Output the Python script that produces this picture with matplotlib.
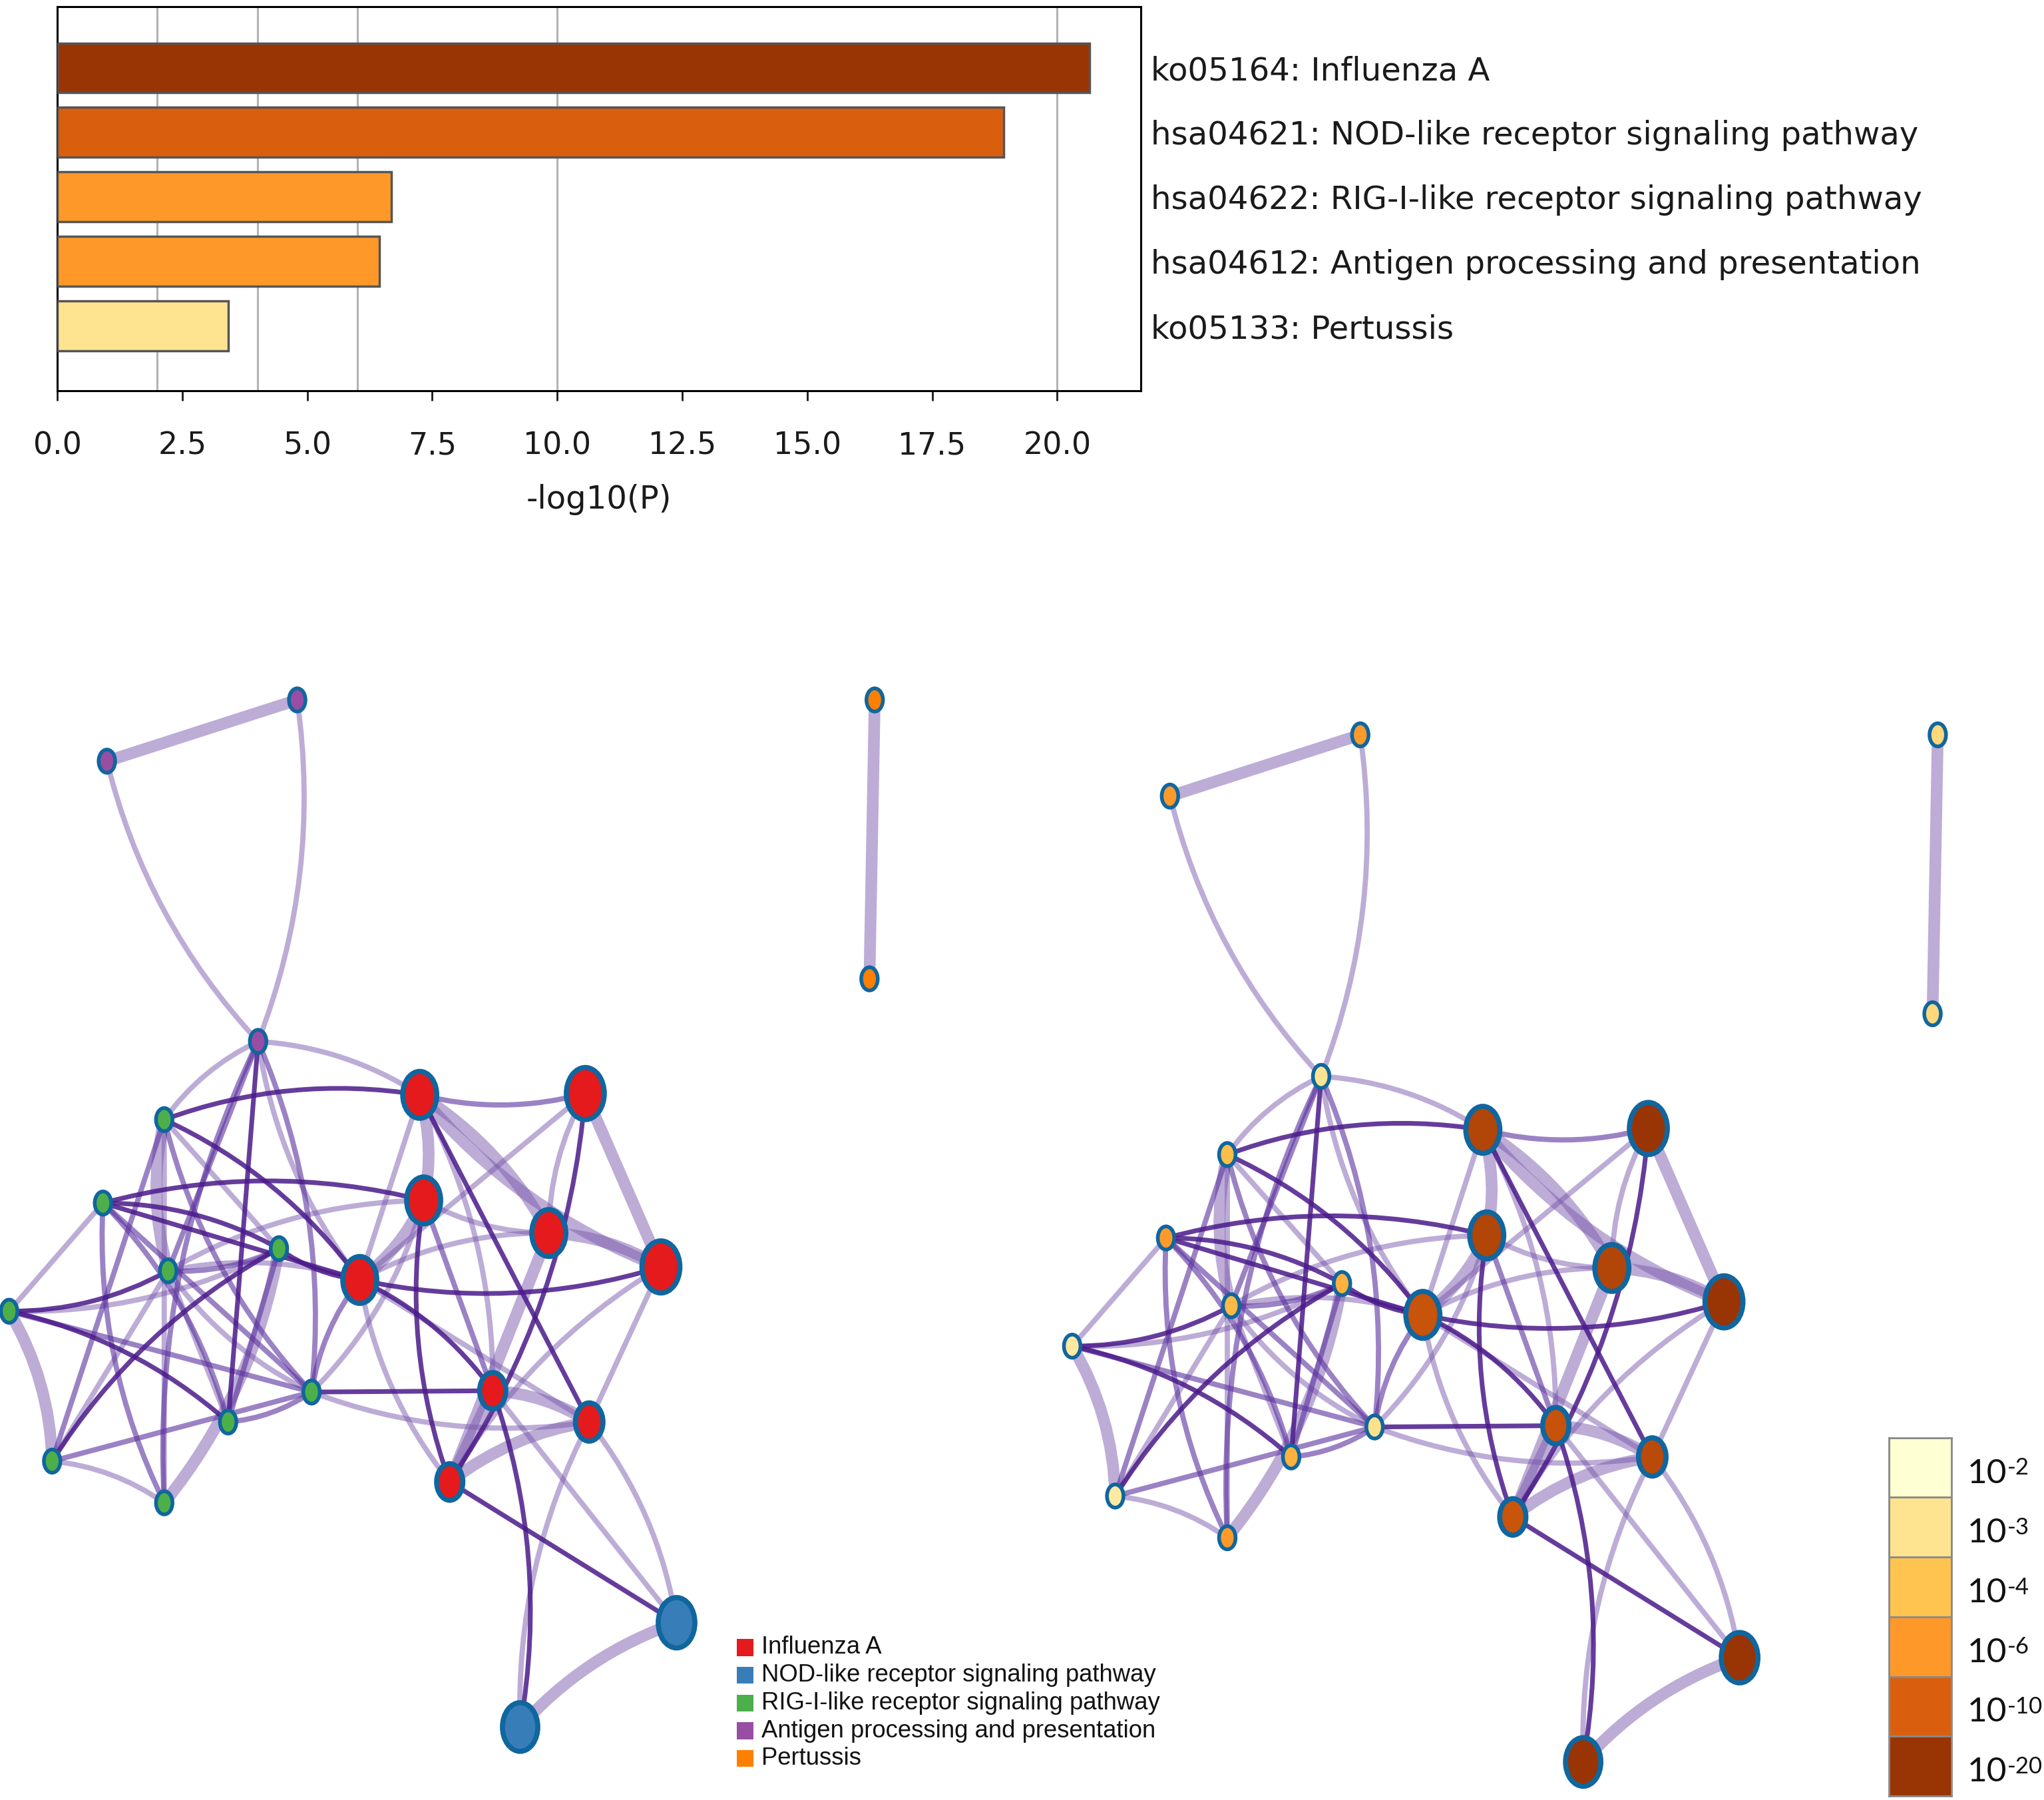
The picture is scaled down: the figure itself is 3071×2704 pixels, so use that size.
import numpy as np
import matplotlib
matplotlib.use('Agg')
import matplotlib.pyplot as plt
from matplotlib.path import Path
from matplotlib.patches import PathPatch, Ellipse, Rectangle
from matplotlib.colors import ListedColormap, BoundaryNorm, LinearSegmentedColormap
from matplotlib.transforms import blended_transform_factory

# Enrichment bar chart
terms = ['ko05164: Influenza A',
         'hsa04621: NOD-like receptor signaling pathway',
         'hsa04622: RIG-I-like receptor signaling pathway',
         'hsa04612: Antigen processing and presentation',
         'ko05133: Pertussis']
neglogp = [20.65, 18.93, 6.68, 6.44, 3.42]
grid_at = [2, 4, 6, 10, 20]

# p-value colour key
p_bins = [2, 3, 4, 6, 10, 20]
p_exps = ['-2', '-3', '-4', '-6', '-10', '-20']
p_colors = ['#ffffd4', '#fee391', '#fec44f', '#fe9929', '#d95f0e', '#993404']

# cluster key
clusters = ['Influenza A', 'NOD-like receptor signaling pathway',
            'RIG-I-like receptor signaling pathway',
            'Antigen processing and presentation', 'Pertussis']
cluster_colors = ['#e41a1c', '#377eb8', '#4daf4a', '#984ea3', '#ff7f00']

# network nodes (layout of the left panel; right panel is the same layout)
node_names = ['P1', 'P2', 'P3', 'O1', 'O2',
              'G1', 'G2', 'G3', 'G4', 'G5', 'G6', 'G7', 'G8', 'G9',
              'R1', 'R2', 'R3', 'R4', 'R5', 'R6', 'R7', 'R8', 'R9',
              'B1', 'B2']
node_x = [228, 82, 198, 671, 667,
          126, 79, 129, 214, 7, 239, 175, 40, 126,
          322, 449, 325, 421, 507, 276, 378, 452, 345,
          519, 399]
node_y = [537, 584, 799, 537, 751,
          859, 923, 975, 958, 1006, 1068, 1091, 1121, 1153,
          840, 839, 921, 946, 972, 982, 1067, 1091, 1137,
          1245, 1325]
node_cluster = [3, 3, 3, 4, 4,
                2, 2, 2, 2, 2, 2, 2, 2, 2,
                0, 0, 0, 0, 0, 0, 0, 0, 0,
                1, 1]
node_size = [15.5, 15.5, 15.5, 15.5, 15.5,
             15.5, 15.5, 15.5, 15.5, 15.5, 15.5, 15.5, 15.5, 15.5,
             30, 33, 30, 30, 33, 30, 24, 25, 24,
             32, 31]
node_logp = [6, 6, 3, 3.35, 3.35,
             4.3, 6, 4.5, 4.9, 2.8, 3.1, 4.9, 2.8, 6,
             16, 20, 16, 16, 20, 12.7, 13, 15, 12.5,
             20, 20]

# similarity edges: d = strong, m = medium, l = weak, L = weak but wide
edges = [('P1', 'P2', 'L'), ('P2', 'P3', 'l'), ('P1', 'P3', 'l'), ('O1', 'O2', 'L'),
         ('P3', 'G1', 'l'), ('P3', 'R1', 'l'), ('P3', 'G7', 'd'), ('P3', 'G9', 'm'),
         ('P3', 'G6', 'm'), ('P3', 'G3', 'm'), ('P3', 'R6', 'l'),
         ('G5', 'G8', 'L'), ('G5', 'G2', 'l'), ('G5', 'G3', 'd'), ('G5', 'G7', 'd'),
         ('G5', 'G6', 'm'), ('G5', 'G4', 'l'),
         ('G2', 'G4', 'd'), ('G2', 'R6', 'd'), ('G2', 'G9', 'm'), ('G2', 'G7', 'm'),
         ('G2', 'G6', 'm'),
         ('G1', 'G3', 'L'), ('G1', 'R6', 'd'), ('G1', 'G8', 'm'), ('G1', 'G6', 'm'),
         ('G1', 'R1', 'd'), ('G1', 'G4', 'l'),
         ('G3', 'G4', 'm'), ('G3', 'R6', 'l'), ('G3', 'G8', 'l'), ('G3', 'G6', 'l'),
         ('G3', 'R3', 'l'), ('G3', 'G7', 'l'),
         ('G4', 'R6', 'd'), ('G4', 'G9', 'L'), ('G4', 'G7', 'm'), ('G4', 'G8', 'd'),
         ('G6', 'R6', 'm'), ('G6', 'R7', 'd'), ('G6', 'R8', 'l'), ('G6', 'G7', 'm'),
         ('G6', 'G8', 'm'), ('G6', 'R3', 'l'),
         ('G8', 'G9', 'l'), ('G9', 'G1', 'l'),
         ('R3', 'G2', 'd'),
         ('R1', 'R3', 'L'), ('R1', 'R6', 'l'), ('R1', 'R2', 'm'), ('R1', 'R4', 'L'),
         ('R1', 'R8', 'd'), ('R1', 'R5', 'L'), ('R1', 'R7', 'l'),
         ('R2', 'R5', 'L'), ('R2', 'R4', 'l'), ('R2', 'R9', 'd'), ('R2', 'R6', 'l'),
         ('R3', 'R9', 'd'), ('R3', 'R6', 'L'), ('R3', 'R7', 'm'), ('R3', 'R4', 'l'),
         ('R4', 'R5', 'L'), ('R4', 'R9', 'L'), ('R4', 'R6', 'l'),
         ('R5', 'R6', 'd'), ('R5', 'R8', 'l'), ('R5', 'R9', 'l'),
         ('R6', 'R7', 'd'), ('R6', 'R8', 'l'), ('R6', 'R9', 'l'),
         ('R7', 'R8', 'L'), ('R7', 'R9', 'L'), ('R8', 'R9', 'L'),
         ('R7', 'B2', 'd'), ('R9', 'B1', 'd'), ('R8', 'B2', 'l'), ('R8', 'B1', 'l'),
         ('R7', 'B1', 'l'), ('B1', 'B2', 'L')]

right_shift = (815.5, 26.8)

# ---------------------------------------------------------------------------
W, H = 1568, 1381           # layout units of the whole canvas
PT = 72 / 100 * 3071 / W    # points per layout unit

fig = plt.figure(figsize=(30.71, 27.04), dpi=100)
fig.patch.set_facecolor('white')

# Canvas axes for the two networks and keys
ax = fig.add_axes([0, 0, 1, 1])
ax.set_xlim(0, W)
ax.set_ylim(H, 0)
ax.axis('off')

edge_style = {'l': ('#7b5aae', 0.5, 4.0, 1),
              'L': ('#7b5aae', 0.5, 9.0, 1),
              'm': ('#5e35a0', 0.62, 4.0, 2),
              'd': ('#4a1a8a', 0.85, 3.6, 3)}
idx = {n: i for i, n in enumerate(node_names)}


def draw_network(dx, dy, facecolors):
    for k, (a, b, cls) in enumerate(edges):
        color, alpha, width, z = edge_style[cls]
        x0, y0 = node_x[idx[a]] + dx, node_y[idx[a]] + dy
        x1, y1 = node_x[idx[b]] + dx, node_y[idx[b]] + dy
        bend = 0.13 * (((k + 1) % 3) - 1)
        cx = (x0 + x1) / 2 - bend * (y1 - y0)
        cy = (y0 + y1) / 2 + bend * (x1 - x0)
        path = Path([(x0, y0), (cx, cy), (x1, y1)],
                    [Path.MOVETO, Path.CURVE3, Path.CURVE3])
        ax.add_patch(PathPatch(path, facecolor='none', edgecolor=color,
                               alpha=alpha, lw=width * PT, zorder=z,
                               capstyle='round'))
    for i in range(len(node_names)):
        lw = 4.0 if node_size[i] < 20 else 5.5
        ax.add_patch(Ellipse((node_x[i] + dx, node_y[i] + dy),
                             node_size[i] - lw / PT,
                             node_size[i] * 1.33 - lw / PT,
                             facecolor=facecolors[i], edgecolor='#10669e',
                             lw=lw, zorder=5))


draw_network(0, 0, [cluster_colors[c] for c in node_cluster])

pos = [(b - 2) / 18 for b in p_bins]
p_cmap = LinearSegmentedColormap.from_list('pv', list(zip(pos, p_colors)))
draw_network(right_shift[0], right_shift[1],
             [p_cmap((v - 2) / 18) for v in node_logp])

# cluster key
for k, (name, c) in enumerate(zip(clusters, cluster_colors)):
    y = 1264 + 21.3 * k
    ax.add_patch(Rectangle((565, y - 6.5), 13, 13, facecolor=c,
                           edgecolor='none'))
    ax.text(584, y, name, va='center', ha='left', fontsize=26.3,
            family='Liberation Sans', color='#111111')

# p-value key
ax_cb = fig.add_axes([1449 / W, 1 - 1378 / H, 48 / W, 275 / H])
for k, c in enumerate(p_colors):
    ax_cb.bar(0, 1, bottom=k, width=1, color=c, edgecolor='#8a8a8a', lw=2)
ax_cb.set_xlim(-0.5, 0.5)
ax_cb.set_ylim(len(p_colors), 0)
ax_cb.set_xticks([])
ax_cb.set_yticks([])
trans = blended_transform_factory(ax_cb.transAxes, ax_cb.transData)
for k, e in enumerate(p_exps):
    base = ax_cb.text(1.25, k + 0.6, '10', transform=trans, va='center',
                      ha='left', fontsize=37, family='Lato', color='#111111')
    ax_cb.annotate(e, xy=(1.0, 1.0), xycoords=base, xytext=(1, 1),
                   textcoords='offset points', va='top', ha='left',
                   fontsize=25, family='Lato', color='#111111')
for s in ax_cb.spines.values():
    s.set_color('#8a8a8a')
    s.set_linewidth(2)

# ---------------------------------------------------------------------------
# Bar chart
bfont = dict(family='DejaVu Sans')
fs = 34.7

bar_norm = BoundaryNorm(p_bins + [1000], len(p_colors))
bar_cmap = ListedColormap(p_colors)

axb = fig.add_axes([44 / W, 1 - 300 / H, 831 / W, 295 / H])
axb.barh(np.arange(len(terms)), neglogp, height=0.77,
         color=[bar_cmap(bar_norm(v)) for v in neglogp],
         edgecolor='#555555', lw=2.5, zorder=3)
for g in grid_at:
    axb.axvline(g, color='#b3b3b3', lw=2.2, zorder=1)
axb.set_xlim(0, 21.67)
axb.set_ylim(len(terms) - 1 + 1.01, -0.95)
axb.set_xticks(np.arange(0, 20.1, 2.5))
axb.set_xticklabels(['%.1f' % v for v in np.arange(0, 20.1, 2.5)], **bfont)
axb.tick_params(axis='x', length=11, width=2, pad=32,
                labelsize=33, colors='#1a1a1a')
axb.yaxis.tick_right()
axb.set_yticks(np.arange(len(terms)))
axb.set_yticklabels(terms, **bfont)
axb.tick_params(axis='y', length=0, pad=11, labelsize=fs, colors='#1a1a1a')
axb.set_xlabel('-log10(P)', fontsize=fs, labelpad=25, color='#1a1a1a', **bfont)
for s in axb.spines.values():
    s.set_linewidth(2.2)
    s.set_color('black')

fig.savefig('out.png', dpi=100, facecolor='white')
